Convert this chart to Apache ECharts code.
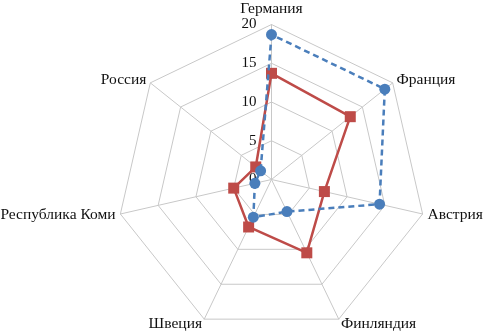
<!DOCTYPE html>
<html>
<head>
<meta charset="utf-8">
<script src="https://cdn.jsdelivr.net/npm/echarts@6/dist/echarts.min.js"></script>
<style>
  html, body { margin: 0; padding: 0; background: #fff; }
  #chart { width: 483px; height: 335px; }
</style>
</head>
<body>
<div id="chart"></div>
<script>
// countries listed clockwise from the top
const countries = ["Германия", "Франция", "Австрия", "Финляндия", "Швеция", "Республика Коми", "Россия"];
const blueValues = [18.7, 18.7, 14.3, 4.6, 5.4, 2.2, 1.8];
const redValues = [13.7, 13.0, 7.0, 10.5, 6.8, 5.0, 2.6];
const scaleMax = 20;
const scaleSplits = 4;

// echarts lays radar indicators out counter-clockwise, so reverse the tail
const order = [0].concat(countries.slice(1).map((_, i) => countries.length - 1 - i));
const pick = (arr) => order.map((i) => arr[i]);

const myChart = echarts.init(document.getElementById("chart"));
myChart.setOption({
  animation: false,
  textStyle: { fontFamily: "Liberation Serif", color: "#000" },
  radar: {
    center: [271.5, 179.5],
    radius: 155,
    startAngle: 90,
    shape: "polygon",
    splitNumber: scaleSplits,
    indicator: order.map((i, k) => ({
      name: countries[i],
      min: 0,
      max: scaleMax,
      axisLabel: k === 0 ? { show: true } : undefined,
    })),
    axisName: {
      color: "#111",
      fontFamily: "Liberation Serif",
      fontSize: 15.5,
    },
    nameGap: 5,
    axisLabel: {
      show: false,
      color: "#111",
      fontFamily: "Liberation Serif",
      fontSize: 15,
      margin: 15,
    },
    axisLine: { lineStyle: { color: "#c8c8c8", width: 1 } },
    splitLine: { lineStyle: { color: "#c8c8c8", width: 1 } },
    splitArea: { show: false },
  },
  series: [
    {
      type: "radar",
      z: 2,
      data: [
        {
          value: pick(redValues),
          symbol: "rect",
          symbolSize: 11,
          lineStyle: { color: "#be4b48", width: 2.5, type: "solid" },
          itemStyle: { color: "#be4b48" },
        },
      ],
    },
    {
      type: "radar",
      z: 3,
      data: [
        {
          value: pick(blueValues),
          symbol: "circle",
          symbolSize: 11,
          lineStyle: { color: "#4a7ebb", width: 2.5, type: [6, 4] },
          itemStyle: { color: "#4a7ebb" },
        },
      ],
    },
  ],
});
</script>
</body>
</html>
